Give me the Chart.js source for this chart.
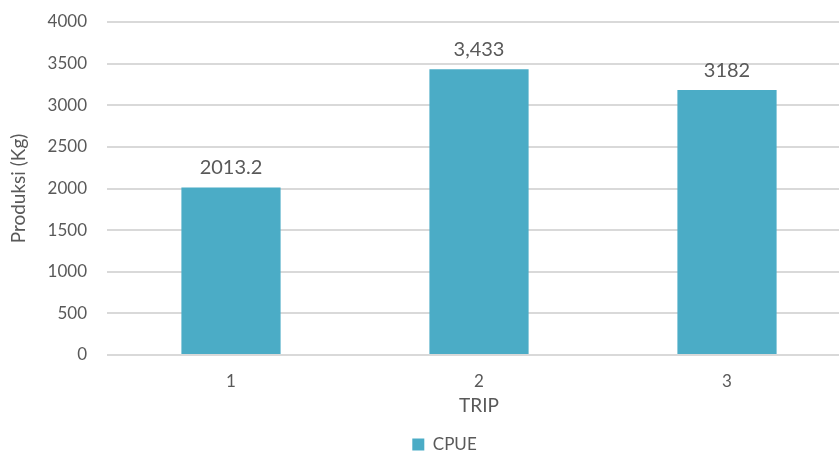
<!DOCTYPE html>
<html><head><meta charset="utf-8">
<script src="https://cdn.jsdelivr.net/npm/chart.js@4/dist/chart.umd.min.js"></script>
<style>html,body{margin:0;padding:0;background:#fff;overflow:hidden;width:839px;height:452px}#wrap{width:886px;height:452px;position:relative}</style>
</head><body><div id="wrap"><canvas id="c"></canvas></div>
<script>
const categories = ["1", "2", "3"];
const cpue = [2013.2, 3433, 3182];
const valueLabels = ["2013.2", "3,433", "3182"];
const seriesName = "CPUE";
const yTicks = [0, 500, 1000, 1500, 2000, 2500, 3000, 3500, 4000];

const FONT = "Lato, 'Open Sans', sans-serif";
const TXT = "#595959";

const labelPlugin = {
  id: 'valLabels',
  afterLayout(chart) {
    if (chart.legend) { chart.legend.left += 19; chart.legend.right += 19; }
  },
  afterDatasetsDraw(chart) {
    const ctx = chart.ctx;
    const meta = chart.getDatasetMeta(0);
    ctx.save();
    ctx.font = "20px " + FONT;
    ctx.fillStyle = TXT;
    ctx.textAlign = "center";
    ctx.textBaseline = "bottom";
    meta.data.forEach((bar, i) => {
      ctx.fillText(valueLabels[i], bar.x, bar.y - 10);
    });
    ctx.restore();
  }
};

new Chart(document.getElementById('c'), {
  type: 'bar',
  data: {
    labels: categories,
    datasets: [{
      label: seriesName,
      data: cpue,
      backgroundColor: '#4BACC6',
      borderWidth: 0,
      categoryPercentage: 1,
      barPercentage: 0.4
    }]
  },
  options: {
    responsive: true,
    maintainAspectRatio: false,
    animation: false,
    layout: { padding: { top: 22, right: 35, left: 0, bottom: -11 } },
    plugins: {
      legend: {
        position: 'bottom',
        labels: { font: { family: FONT, size: 17 }, color: TXT, boxWidth: 12, boxHeight: 12, padding: 0 }
      },
      tooltip: { enabled: false }
    },
    scales: {
      x: {
        grid: { display: false, drawTicks: false },
        border: { display: false },
        ticks: { font: { family: FONT, size: 17, lineHeight: 1 }, color: TXT, padding: 18 },
        title: { display: true, text: 'TRIP', font: { family: FONT, size: 19, lineHeight: 1 }, color: TXT, padding: { top: -12, bottom: 21 } }
      },
      y: {
        min: 0, max: 4000,
        afterBuildTicks(axis) { axis.ticks = yTicks.map(v => ({ value: v })); },
        afterFit(axis) { axis.width = 107; axis.paddingTop = 0; axis.paddingBottom = 0; },
        grid: { color: '#D9D9D9', lineWidth: 2, drawTicks: false },
        border: { display: false },
        ticks: { font: { family: FONT, size: 17 }, color: TXT, padding: 20, callback: v => String(v) },
        title: { display: true, text: 'Produksi (Kg)', font: { family: FONT, size: 19 }, color: TXT, padding: { top: 7, bottom: 2 } }
      }
    }
  },
  plugins: [labelPlugin]
});
</script>
</body></html>
